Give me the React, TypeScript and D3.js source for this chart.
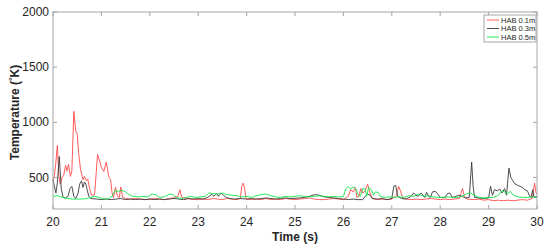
import * as d3 from 'd3'

// time (s), temperature (K)
const hab01: [number, number][] = [
  [20.0, 470], [20.03, 520], [20.06, 640], [20.09, 790], [20.12, 520], [20.15, 440], [20.19, 500],
  [20.22, 520], [20.26, 610], [20.29, 560], [20.32, 620], [20.36, 510], [20.39, 560], [20.43, 1100],
  [20.47, 920], [20.5, 900], [20.53, 720], [20.57, 570], [20.62, 480], [20.65, 510], [20.69, 470],
  [20.72, 485], [20.76, 390], [20.8, 340], [20.86, 345], [20.92, 710], [20.97, 640], [21.0, 590],
  [21.05, 555], [21.1, 640], [21.15, 510], [21.19, 480], [21.22, 360], [21.25, 320], [21.29, 410],
  [21.33, 330], [21.37, 320], [21.4, 415], [21.44, 320], [21.5, 310], [21.6, 305], [21.7, 310],
  [21.8, 305], [21.9, 300], [22.0, 305], [22.1, 310], [22.2, 305], [22.3, 300], [22.4, 310],
  [22.5, 315], [22.58, 330], [22.62, 390], [22.66, 320], [22.75, 310], [22.85, 305], [23.0, 300],
  [23.1, 305], [23.2, 300], [23.3, 310], [23.4, 305], [23.5, 300], [23.6, 310], [23.7, 305],
  [23.8, 300], [23.87, 310], [23.9, 420], [23.93, 450], [23.96, 400], [23.99, 305], [24.1, 300],
  [24.2, 305], [24.3, 300], [24.4, 310], [24.5, 300], [24.6, 305], [24.7, 300], [24.8, 310],
  [24.9, 305], [25.0, 300], [25.1, 305], [25.2, 310], [25.3, 315], [25.4, 305], [25.5, 300],
  [25.6, 300], [25.7, 305], [25.8, 310], [25.9, 305], [26.0, 300], [26.1, 330], [26.15, 390],
  [26.2, 370], [26.25, 410], [26.28, 320], [26.32, 330], [26.36, 400], [26.4, 360], [26.45, 380],
  [26.5, 440], [26.55, 360], [26.6, 310], [26.7, 300], [26.8, 305], [26.9, 300], [27.0, 305],
  [27.1, 340], [27.14, 420], [27.18, 380], [27.22, 320], [27.3, 305], [27.4, 300], [27.5, 305],
  [27.6, 300], [27.7, 305], [27.8, 310], [27.9, 305], [28.0, 300], [28.1, 305], [28.2, 300],
  [28.3, 305], [28.4, 310], [28.46, 400], [28.5, 330], [28.55, 305], [28.7, 300], [28.8, 305],
  [28.9, 295], [29.0, 300], [29.1, 290], [29.2, 295], [29.3, 290], [29.4, 295], [29.5, 290],
  [29.6, 295], [29.7, 300], [29.8, 295], [29.9, 310], [29.95, 450], [29.98, 360], [30.0, 350],
]

const hab03: [number, number][] = [
  [20.0, 480], [20.03, 420], [20.06, 360], [20.09, 450], [20.13, 690], [20.17, 400], [20.21, 320],
  [20.26, 315], [20.31, 330], [20.35, 400], [20.39, 420], [20.43, 330], [20.47, 310], [20.52, 360],
  [20.55, 440], [20.59, 470], [20.62, 410], [20.65, 460], [20.68, 440], [20.71, 380], [20.74, 330],
  [20.78, 310], [20.9, 305], [21.0, 300], [21.1, 305], [21.2, 300], [21.3, 305], [21.4, 310],
  [21.5, 300], [21.6, 305], [21.7, 300], [21.8, 305], [21.9, 300], [22.0, 305], [22.1, 300],
  [22.2, 305], [22.3, 300], [22.4, 305], [22.5, 310], [22.6, 305], [22.7, 300], [22.8, 310],
  [22.9, 305], [23.0, 310], [23.1, 305], [23.2, 320], [23.28, 350], [23.32, 330], [23.38, 355],
  [23.42, 330], [23.47, 360], [23.52, 340], [23.58, 320], [23.65, 310], [23.75, 305], [23.85, 310],
  [24.0, 305], [24.1, 310], [24.2, 305], [24.3, 310], [24.4, 315], [24.5, 310], [24.6, 305],
  [24.7, 310], [24.8, 315], [24.9, 310], [25.0, 312], [25.1, 315], [25.2, 320], [25.3, 330],
  [25.4, 345], [25.5, 340], [25.6, 325], [25.7, 320], [25.8, 315], [25.9, 310], [26.0, 305],
  [26.1, 300], [26.2, 305], [26.3, 300], [26.4, 300], [26.45, 330], [26.5, 350], [26.55, 340],
  [26.6, 310], [26.7, 305], [26.8, 310], [26.9, 300], [27.0, 310], [27.04, 420], [27.08, 430],
  [27.12, 330], [27.2, 310], [27.3, 305], [27.4, 330], [27.45, 360], [27.5, 340], [27.55, 330],
  [27.6, 360], [27.65, 340], [27.68, 320], [27.72, 365], [27.76, 330], [27.8, 320], [27.84, 370],
  [27.9, 375], [27.95, 350], [28.0, 320], [28.1, 320], [28.15, 355], [28.2, 360], [28.25, 320],
  [28.3, 325], [28.38, 340], [28.45, 330], [28.52, 315], [28.6, 320], [28.62, 450], [28.65, 640],
  [28.68, 420], [28.71, 320], [28.8, 315], [28.9, 310], [29.0, 315], [29.04, 420], [29.08, 340],
  [29.12, 390], [29.18, 380], [29.23, 395], [29.28, 360], [29.33, 400], [29.37, 340], [29.42, 585],
  [29.46, 500], [29.5, 470], [29.55, 440], [29.6, 430], [29.65, 420], [29.7, 410], [29.75, 390],
  [29.8, 380], [29.85, 330], [29.88, 320], [29.91, 390], [29.94, 320], [30.0, 330],
]

const hab05: [number, number][] = [
  [20.0, 330], [20.1, 335], [20.2, 320], [20.3, 310], [20.4, 305], [20.5, 305], [20.6, 305],
  [20.7, 310], [20.78, 320], [20.85, 330], [20.95, 320], [21.05, 305], [21.15, 310], [21.22, 330],
  [21.28, 380], [21.35, 375], [21.42, 385], [21.5, 370], [21.57, 345], [21.65, 330], [21.75, 325],
  [21.85, 330], [21.95, 325], [22.05, 350], [22.12, 345], [22.2, 320], [22.3, 325], [22.4, 350],
  [22.48, 345], [22.55, 320], [22.65, 310], [22.75, 320], [22.85, 330], [22.95, 320], [23.05, 325],
  [23.15, 330], [23.22, 360], [23.3, 355], [23.4, 350], [23.5, 360], [23.6, 345], [23.7, 340],
  [23.8, 335], [23.9, 325], [24.0, 330], [24.1, 320], [24.2, 335], [24.3, 345], [24.4, 350],
  [24.5, 335], [24.6, 325], [24.7, 320], [24.8, 330], [24.9, 325], [25.0, 330], [25.1, 335],
  [25.2, 330], [25.3, 325], [25.4, 330], [25.5, 335], [25.6, 330], [25.7, 325], [25.8, 330],
  [25.9, 325], [26.0, 330], [26.05, 400], [26.1, 420], [26.15, 395], [26.2, 415], [26.25, 400],
  [26.3, 345], [26.35, 330], [26.4, 400], [26.45, 395], [26.48, 330], [26.52, 410], [26.58, 390],
  [26.62, 340], [26.66, 370], [26.72, 365], [26.76, 330], [26.85, 320], [26.95, 325], [27.05, 320],
  [27.15, 325], [27.25, 320], [27.35, 335], [27.45, 330], [27.55, 350], [27.65, 330], [27.75, 335],
  [27.85, 325], [27.95, 320], [28.05, 320], [28.15, 325], [28.25, 320], [28.35, 320], [28.45, 330],
  [28.55, 355], [28.62, 360], [28.7, 340], [28.8, 320], [28.9, 315], [29.0, 320], [29.1, 320],
  [29.2, 340], [29.28, 380], [29.33, 370], [29.38, 350], [29.45, 375], [29.5, 345], [29.6, 325],
  [29.7, 320], [29.8, 320], [29.9, 325], [30.0, 320],
]

const seriesNames = ['HAB 0.1m', 'HAB 0.3m', 'HAB 0.5m']
const seriesColors = ['#ff4a4a', '#3a3a3a', '#10e84a']
const seriesData = [hab01, hab03, hab05]

const xTicks = [20, 21, 22, 23, 24, 25, 26, 27, 28, 29, 30]
const yTicks = [500, 1000, 1500, 2000]

const W = 550
const H = 250
const margin = { top: 12, right: 13, bottom: 41, left: 53 }
const font = '"Liberation Sans", Arial, Helvetica, sans-serif'
const axisColor = '#a6a6a6'
const textColor = '#262626'

export default function App() {
  const x = d3.scaleLinear().domain([20, 30]).range([margin.left, W - margin.right])
  const y = d3.scaleLinear().domain([215, 2000]).range([H - margin.bottom, margin.top])
  const line = d3
    .line<[number, number]>()
    .x((d) => x(d[0]))
    .y((d) => y(d[1]))

  const left = margin.left
  const right = W - margin.right
  const top = margin.top
  const bottom = H - margin.bottom
  const tickLen = 4

  const legX = 484
  const legY = 15

  return (
    <svg
      width={W}
      height={H}
      style={{ position: 'absolute', left: 0, top: 0, background: '#fff' }}
      fontFamily={font}
    >
      <rect x={0} y={0} width={W} height={H} fill="#fff" />
      {/* series */}
      {seriesData.map((d, i) => (
        <path
          key={seriesNames[i]}
          d={line(d) || ''}
          fill="none"
          stroke={seriesColors[i]}
          strokeWidth={0.9}
          strokeLinejoin="round"
        />
      ))}

      {/* box */}
      <rect x={left} y={top} width={right - left} height={bottom - top} fill="none" stroke={axisColor} strokeWidth={1} />

      {/* x ticks */}
      {xTicks.map((t) => (
        <g key={'x' + t}>
          <line x1={x(t)} x2={x(t)} y1={bottom} y2={bottom - tickLen} stroke={axisColor} />
          <line x1={x(t)} x2={x(t)} y1={top} y2={top + tickLen} stroke={axisColor} />
          <text x={x(t)} y={bottom + 17} textAnchor="middle" fontSize={12} fill={textColor}>
            {t}
          </text>
        </g>
      ))}

      {/* y ticks */}
      {yTicks.map((t) => (
        <g key={'y' + t}>
          <line x1={left} x2={left + tickLen} y1={y(t)} y2={y(t)} stroke={axisColor} />
          <line x1={right} x2={right - tickLen} y1={y(t)} y2={y(t)} stroke={axisColor} />
          <text x={left - 4} y={y(t) + 4} textAnchor="end" fontSize={12} fill={textColor}>
            {t}
          </text>
        </g>
      ))}

      {/* axis titles */}
      <text x={(left + right) / 2} y={H - 9} textAnchor="middle" fontSize={12} fontWeight="bold" fill={textColor}>
        Time (s)
      </text>
      <text
        transform={`translate(19,${(top + bottom) / 2 + 2}) rotate(-90)`}
        textAnchor="middle"
        fontSize={12}
        fontWeight="bold"
        fill={textColor}
      >
        Temperature (<tspan dy={-4} fontSize={9}>°</tspan><tspan dy={4}>K)</tspan>
      </text>

      {/* legend */}
      <rect x={legX} y={legY} width={52} height={27} fill="#fff" stroke={axisColor} strokeWidth={1} />
      {seriesNames.map((n, i) => (
        <g key={n}>
          <line
            x1={legX + 3}
            x2={legX + 15}
            y1={legY + 5 + i * 8.5}
            y2={legY + 5 + i * 8.5}
            stroke={seriesColors[i]}
            strokeWidth={0.9}
          />
          <text x={legX + 17} y={legY + 7.7 + i * 8.5} fontSize={7.5} fill={textColor}>
            {n}
          </text>
        </g>
      ))}
    </svg>
  )
}
